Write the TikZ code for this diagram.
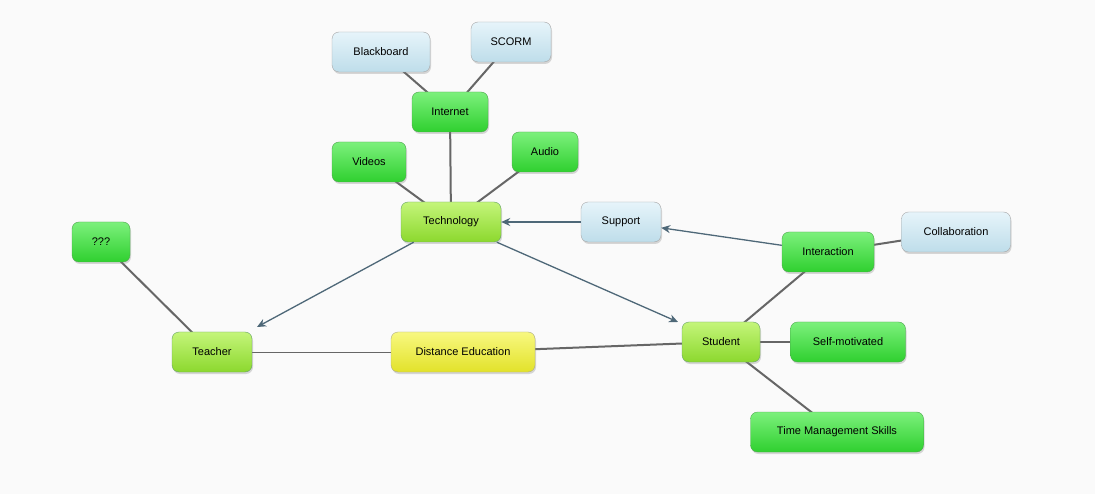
\documentclass[tikz,border=0pt]{standalone}
\usepackage{fontspec}
\setmainfont{Liberation Sans}
\usetikzlibrary{arrows.meta,shadows}
\definecolor{gA}{HTML}{7CF07C}\definecolor{gB}{HTML}{2FD02F}
\definecolor{lA}{HTML}{C4F57A}\definecolor{lB}{HTML}{8CD82E}
\definecolor{yA}{HTML}{F8F880}\definecolor{yB}{HTML}{E2E22A}
\definecolor{bA}{HTML}{E6F4FA}\definecolor{bB}{HTML}{BEDDEA}
\definecolor{edge}{HTML}{666666}\definecolor{arr}{HTML}{4E6878}
\tikzset{
 box/.style={rounded corners=7pt,minimum height=40pt,font=\fontsize{11}{13}\selectfont,drop shadow={shadow xshift=1pt,shadow yshift=-2pt,opacity=.3}},
 gbox/.style={box,draw=green!50!black!70,top color=gA,bottom color=gB},
 lbox/.style={box,draw=green!40!black!60,top color=lA,bottom color=lB},
 ybox/.style={box,draw=yellow!40!black!60,top color=yA,bottom color=yB},
 bbox/.style={box,draw=gray!70,top color=bA,bottom color=bB},
 ln/.style={draw=edge,line width=2pt},
 thin ln/.style={draw=edge,line width=1pt},
 ar/.style={draw=arr,line width=1.3pt,-{Stealth[length=9pt,width=8pt]}}
}
\begin{document}
\begin{tikzpicture}[x=1pt,y=-1pt]
\fill[white!96!gray] (0,0) rectangle (1095,494);
\useasboundingbox (0,0) rectangle (1095,494);
\coordinate (B) at (381,52);\coordinate (S) at (511,42);\coordinate (I) at (450,112);
\coordinate (V) at (369,162);\coordinate (A) at (545,152);\coordinate (T) at (451,222);
\coordinate (Q) at (101,242);\coordinate (Te) at (212,352);\coordinate (D) at (463,352);
\coordinate (St) at (721,342);\coordinate (SM) at (848,342);\coordinate (TM) at (837,432);
\coordinate (In) at (828,252);\coordinate (C) at (956,232);\coordinate (Su) at (621,222);
\draw[ln] (B)--(I); \draw[ln] (S)--(I); \draw[ln] (I)--(T); \draw[ln] (V)--(T); \draw[ln] (A)--(T);
\draw[ln] (Q)--(Te); \draw[thin ln] (Te)--(D); \draw[ln] (D)--(St); \draw[ln] (St)--(SM);
\draw[ln] (St)--(TM); \draw[ln] (St)--(In); \draw[ln] (In)--(C);
\node[bbox,minimum width=98pt] (blackboard) at (B) {Blackboard};
\node[bbox,minimum width=80pt] (scorm) at (S) {SCORM};
\node[gbox,minimum width=76pt] (internet) at (I) {Internet};
\node[gbox,minimum width=74pt] (videos) at (V) {Videos};
\node[gbox,minimum width=66pt] (audio) at (A) {Audio};
\node[lbox,minimum width=100pt] (tech) at (T) {Technology};
\node[bbox,minimum width=80pt] (support) at (Su) {Support};
\node[gbox,minimum width=92pt] (inter) at (In) {Interaction};
\node[bbox,minimum width=109pt] (collab) at (C) {Collaboration};
\node[gbox,minimum width=58pt] (qqq) at (Q) {???};
\node[lbox,minimum width=80pt] (teacher) at (Te) {Teacher};
\node[ybox,minimum width=144pt] (dist) at (D) {Distance Education};
\node[lbox,minimum width=78pt] (student) at (St) {Student};
\node[gbox,minimum width=115pt] (selfm) at (SM) {Self-motivated};
\node[gbox,minimum width=173pt] (time) at (TM) {Time Management Skills};
\draw[ar] (tech) -- (257,327);
\draw[ar] (tech) -- (678,322);
\draw[ar] (support) -- (tech);
\draw[ar] (inter) -- (support);
\end{tikzpicture}
\end{document}
